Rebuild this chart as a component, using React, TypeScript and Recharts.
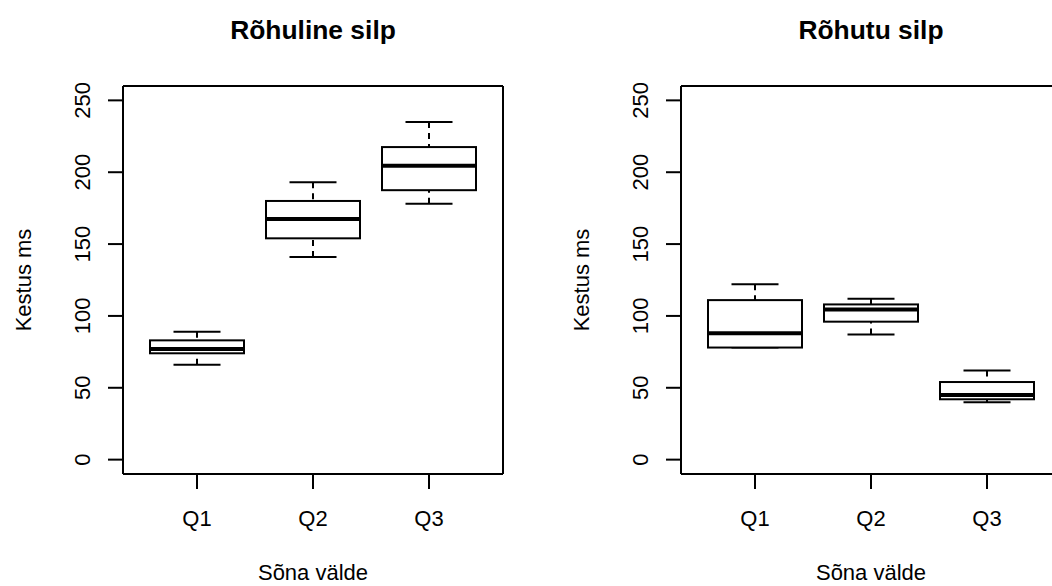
import React from "react";
import { ComposedChart, Bar, XAxis, YAxis, Label } from "recharts";

// Categories and tick values
const categories = ["Q1", "Q2", "Q3"];
const yTicks = [0, 50, 100, 150, 200, 250];

// Rõhuline silp (min, lower hinge, median, upper hinge, max)
const stressedMin = [66, 141, 178];
const stressedQ1 = [74, 154, 187.5];
const stressedMedian = [77, 167.5, 204.5];
const stressedQ3 = [83, 180, 217.5];
const stressedMax = [89, 193, 235];

// Rõhutu silp
const unstressedMin = [78, 87, 40];
const unstressedQ1 = [78, 96, 42];
const unstressedMedian = [88, 104.5, 45];
const unstressedQ3 = [111, 108, 54];
const unstressedMax = [122, 112, 62];

const FONT = "'Liberation Sans', Arial, Helvetica, sans-serif";

interface BoxRow {
  cat: string;
  base: number;
  lowWhisker: number;
  lowBox: number;
  highBox: number;
  highWhisker: number;
}

// stacked segments: invisible base, lower whisker, two box halves, upper whisker
const toRows = (
  min: number[],
  q1: number[],
  med: number[],
  q3: number[],
  max: number[]
): BoxRow[] =>
  categories.map((cat, i) => ({
    cat,
    base: min[i],
    lowWhisker: q1[i] - min[i],
    lowBox: med[i] - q1[i],
    highBox: q3[i] - med[i],
    highWhisker: max[i] - q3[i],
  }));

const stressedData = toRows(stressedMin, stressedQ1, stressedMedian, stressedQ3, stressedMax);
const unstressedData = toRows(unstressedMin, unstressedQ1, unstressedMedian, unstressedQ3, unstressedMax);

const Empty = () => <g />;

const LowerWhisker = (props: any) => {
  const { x, y, width, height } = props;
  const cx = x + width / 2;
  const bottom = y + height;
  return (
    <g>
      <line x1={cx} y1={bottom} x2={cx} y2={y} stroke="#000" strokeWidth={2} strokeDasharray="6 5" />
      <line x1={x + width / 4} x2={x + (3 * width) / 4} y1={bottom} y2={bottom} stroke="#000" strokeWidth={2} />
    </g>
  );
};

const UpperWhisker = (props: any) => {
  const { x, y, width, height } = props;
  const cx = x + width / 2;
  return (
    <g>
      <line x1={cx} y1={y} x2={cx} y2={y + height} stroke="#000" strokeWidth={2} strokeDasharray="6 5" />
      <line x1={x + width / 4} x2={x + (3 * width) / 4} y1={y} y2={y} stroke="#000" strokeWidth={2} />
    </g>
  );
};

const LowBox = (props: any) => {
  const { x, y, width, height } = props;
  return <rect x={x} y={y} width={width} height={height} fill="#fff" stroke="#000" strokeWidth={2} />;
};

const HighBox = (props: any) => {
  const { x, y, width, height } = props;
  const bottom = y + height;
  return (
    <g>
      <rect x={x} y={y} width={width} height={height} fill="#fff" stroke="#000" strokeWidth={2} />
      <line x1={x} x2={x + width} y1={bottom} y2={bottom} stroke="#000" strokeWidth={4} />
    </g>
  );
};

const YTick = (props: any) => {
  const { x, y, payload } = props;
  const bx = x - 16;
  return (
    <text
      x={bx}
      y={y}
      transform={`rotate(-90, ${bx}, ${y})`}
      textAnchor="middle"
      fontSize={22}
      fontFamily={FONT}
      fill="#000"
    >
      {payload.value}
    </text>
  );
};

const XTick = (props: any) => {
  const { x, y, payload } = props;
  return (
    <text x={x} y={y + 35} textAnchor="middle" fontSize={22} fontFamily={FONT} fill="#000">
      {payload.value}
    </text>
  );
};

const axisStyle = { stroke: "#000", strokeWidth: 2 };

function BoxPanel({ title, data, left }: { title: string; data: BoxRow[]; left: number }) {
  return (
    <div style={{ position: "absolute", left, top: 0 }}>
      <ComposedChart
        width={526}
        height={586}
        data={data}
        margin={{ top: 85, right: 22, bottom: 0, left: 0 }}
        barSize={94}
      >
        <XAxis
          dataKey="cat"
          height={112}
          padding={{ left: 16, right: 16 }}
          tickSize={15}
          axisLine={axisStyle}
          tickLine={axisStyle}
          tick={<XTick />}
        >
          <Label
            content={(p: any) => (
              <text
                x={p.viewBox.x + p.viewBox.width / 2}
                y={p.viewBox.y + 106}
                textAnchor="middle"
                fontSize={22}
                fontFamily={FONT}
                fill="#000"
              >
                Sõna välde
              </text>
            )}
          />
        </XAxis>
        <XAxis
          xAxisId="top"
          orientation="top"
          dataKey="cat"
          height={1}
          tick={false}
          tickLine={false}
          axisLine={axisStyle}
        >
          <Label
            content={(p: any) => (
              <text
                x={p.viewBox.x + p.viewBox.width / 2}
                y={p.viewBox.y - 46}
                textAnchor="middle"
                fontSize={26.4}
                fontWeight="bold"
                fontFamily={FONT}
                fill="#000"
              >
                {title}
              </text>
            )}
          />
        </XAxis>
        <YAxis
          type="number"
          width={123}
          domain={[-10, 260]}
          ticks={yTicks}
          allowDataOverflow
          tickSize={15}
          axisLine={axisStyle}
          tickLine={axisStyle}
          tick={<YTick />}
        >
          <Label
            content={(p: any) => {
              const lx = p.viewBox.x + 31;
              const ly = p.viewBox.y + p.viewBox.height / 2;
              return (
                <text
                  x={lx}
                  y={ly}
                  transform={`rotate(-90, ${lx}, ${ly})`}
                  textAnchor="middle"
                  fontSize={22}
                  fontFamily={FONT}
                  fill="#000"
                >
                  Kestus ms
                </text>
              );
            }}
          />
        </YAxis>
        <YAxis
          yAxisId="right"
          orientation="right"
          type="number"
          width={1}
          domain={[-10, 260]}
          tick={false}
          tickLine={false}
          axisLine={axisStyle}
        />
        <Bar dataKey="base" stackId="box" shape={<Empty />} isAnimationActive={false} />
        <Bar dataKey="lowWhisker" stackId="box" shape={<LowerWhisker />} isAnimationActive={false} />
        <Bar dataKey="lowBox" stackId="box" shape={<LowBox />} isAnimationActive={false} />
        <Bar dataKey="highBox" stackId="box" shape={<HighBox />} isAnimationActive={false} />
        <Bar dataKey="highWhisker" stackId="box" shape={<UpperWhisker />} isAnimationActive={false} />
      </ComposedChart>
    </div>
  );
}

export default function App() {
  return (
    <div
      style={{
        position: "fixed",
        left: 0,
        top: 0,
        width: 1052,
        height: 586,
        overflow: "hidden",
        background: "#fff",
        fontFamily: FONT,
      }}
    >
      <BoxPanel title="Rõhuline silp" data={stressedData} left={0} />
      <BoxPanel title="Rõhutu silp" data={unstressedData} left={558} />
    </div>
  );
}
